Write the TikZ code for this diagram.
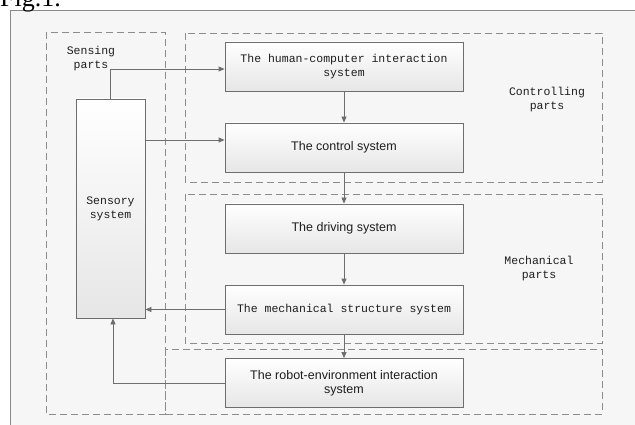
\documentclass[tikz,border=0pt]{standalone}
\usepackage{fontspec}
\setmainfont{Liberation Serif}
\newfontfamily\cnmono{Liberation Mono}
\newfontfamily\cnsans{Liberation Sans}
\usetikzlibrary{arrows.meta, calc}
\definecolor{framegray}{HTML}{8A8A8A}
\definecolor{linegray}{HTML}{6E6E6E}
\definecolor{dashgray}{HTML}{8C8C8C}
\definecolor{paper}{HTML}{F6F6F6}
\definecolor{boxbot}{HTML}{E6E6E6}
\definecolor{inkdark}{HTML}{1E1E1E}

\tikzset{
  sysbox/.style={draw=linegray, line width=0.8pt, top color=white, bottom color=boxbot,
    minimum width=238pt, minimum height=49pt, align=center, text=inkdark,
    font=\cnmono\fontsize{11.5}{14}\selectfont},
  sansbox/.style={sysbox, font=\cnsans\fontsize{12.5}{14}\selectfont},
  partbox/.style={draw=dashgray, line width=0.9pt, dash pattern=on 7pt off 4pt},
  partlabel/.style={align=center, text=inkdark, font=\cnmono\fontsize{11.5}{14}\selectfont},
  arr/.style={draw=linegray, line width=0.8pt, -{Triangle[length=6pt, width=5pt]}}
}

\begin{document}
\begin{tikzpicture}[x=1pt, y=-1pt]
\useasboundingbox (0,0) rectangle (635,425);

% Paper and frame
\fill[white] (0,0) rectangle (635,425);
\fill[paper] (10,10) rectangle (635,425);
\draw[framegray, line width=0.8pt] (10,425) -- (10,10) -- (635,10);
\node[anchor=base west, inner sep=0pt, font=\fontsize{26}{26}\selectfont] (figtitle) at (0,7) {Fig.1.};

% Part regions (dashed)
\draw[partbox] (46,32) rectangle (165,414);
\draw[partbox] (185,33) rectangle (602,182);
\draw[partbox] (185,194) rectangle (602,343);
\draw[partbox] (165,349) rectangle (602,414);

% Part labels
\node[partlabel] (lsense) at (91,59) {Sensing\\parts};
\node[partlabel] (lctrl) at (547,99.5) {Controlling\\parts};
\node[partlabel] (lmech) at (539,269) {Mechanical\\parts};

% Systems
\node[sysbox] (hci) at (344,66.5) {The human-computer interaction\\system};
\node[sansbox] (control) at (344,147.5) {The control system};
\node[sansbox] (driving) at (344,228.5) {The driving system};
\node[sysbox] (mech) at (344,309.5) {The mechanical structure system};
\node[sansbox] (robot) at (344,383) {The robot-environment interaction\\system};
\node[sysbox, minimum width=69pt, minimum height=219pt] (sensory) at (110.5,208.5) {Sensory\\system};

% Flow down the chain
\draw[arr] (hci) -- (control);
\draw[arr] (control) -- (driving);
\draw[arr] (driving) -- (mech);
\draw[arr] (mech) -- (robot);

% Sensory links
\coordinate (hciin) at ($(hci.west)+(0,2.5)$);
\coordinate (ctrlin) at ($(control.west)+(0,-7.5)$);
\draw[arr] (sensory.north) |- (hciin);
\draw[arr] (sensory.east |- ctrlin) -- (ctrlin);
\draw[arr] (mech.west) -- (mech.west -| sensory.east);
\draw[arr] (robot.west) -| ($(sensory.south)+(2.5,0)$);

\end{tikzpicture}
\end{document}
